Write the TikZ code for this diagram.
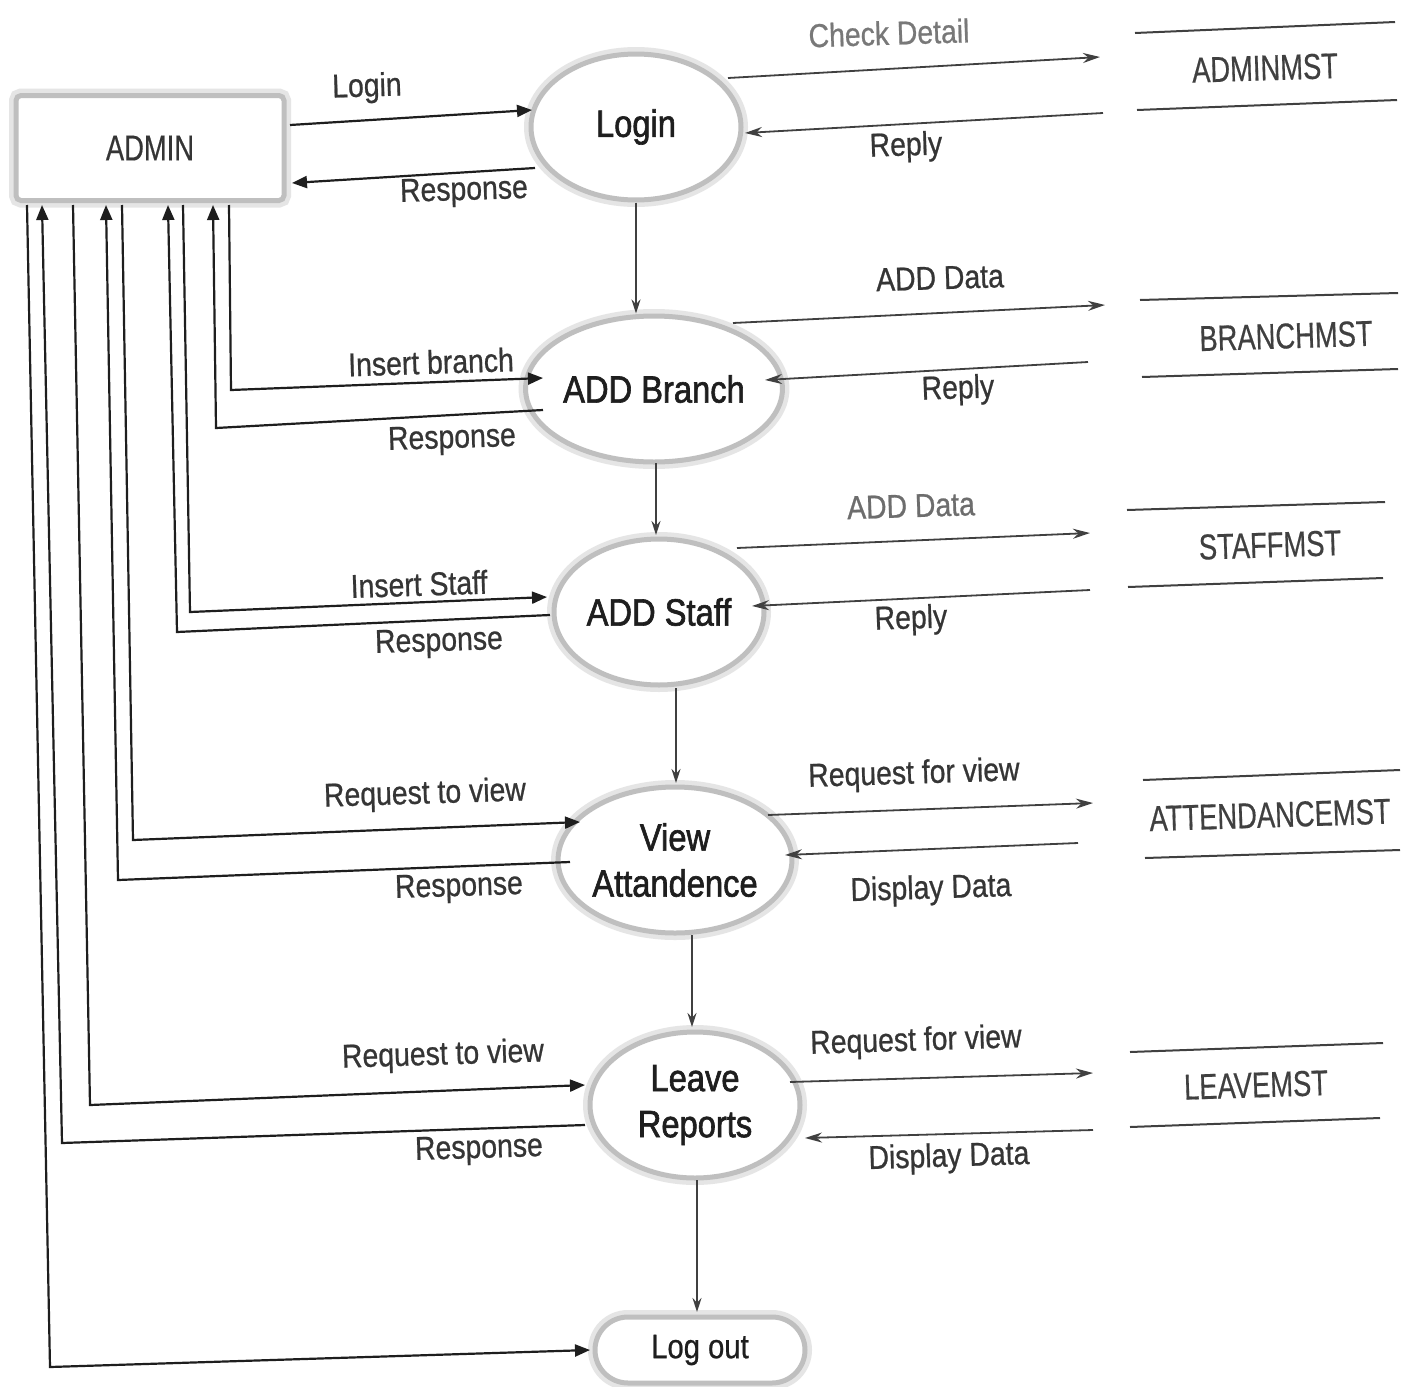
\documentclass[tikz,border=0pt]{standalone}
\usepackage{fontspec}
\setmainfont{Liberation Sans}
\newfontfamily\lblf{Liberation Sans}[FakeStretch=0.86,FakeBold=0.7]
\newfontfamily\procf{Liberation Sans}[FakeStretch=0.86,FakeBold=1.6]
\newfontfamily\capf{Liberation Sans}[FakeStretch=0.76,FakeBold=0.4]
\usetikzlibrary{shapes.geometric,arrows.meta}
\definecolor{ink}{HTML}{1E1E1E}
\begin{document}
\begin{tikzpicture}[x=1pt,y=-1pt,
  halo/.style={preaction={draw=gray!20,line width=14pt}},
  proc/.style={ellipse,halo,draw=gray!50,line width=5pt,fill=white,minimum width=210pt,minimum height=146pt,inner sep=0pt,align=center,text=ink,font=\procf\fontsize{38}{46}\selectfont},
  entity/.style={rectangle,halo,rounded corners=5pt,draw=gray!50,line width=5pt,fill=white,minimum width=268pt,minimum height=105pt,inner sep=0pt,text=ink!90,font=\capf\fontsize{36}{40}\selectfont},
  term/.style={rectangle,halo,rounded corners=33pt,draw=gray!50,line width=5pt,fill=white,minimum width=210pt,minimum height=66pt,inner sep=0pt,text=ink,font=\lblf\fontsize{34}{40}\selectfont},
  store/.style={inner sep=0pt,text=ink!85,rotate=1.8,font=\capf\fontsize{36}{40}\selectfont},
  storeline/.style={draw=ink!85,line width=2pt},
  lbl/.style={inner sep=0pt,text=ink!90,rotate=1.8,font=\lblf\fontsize{33}{38}\selectfont},
  flow/.style={draw=ink,line width=2.2pt,-{Triangle[length=15pt,width=12pt]}},
  sflow/.style={draw=ink!85,line width=1.8pt,-{Stealth[length=17pt,width=10pt]}},
  dflow/.style={draw=ink!85,line width=1.6pt,-{Stealth[length=14pt,width=9pt]}}]
\useasboundingbox (0,0) rectangle (1417,1387);
\fill[white] (0,0) rectangle (1417,1387);

% ---------- nodes ----------
\node[entity] (admin) at (150,148) {ADMIN};
\node[proc] (login) at (636,127) {Login};
\node[proc] (branch) at (654,389) {ADD Branch};
\node[proc] (staff) at (659,612) {ADD Staff};
\node[proc] (view) at (675,860) {View\\Attandence};
\node[proc] (leave) at (695,1105) {Leave\\Reports};
\node[term] (logout) at (700,1350) {Log out};

% ---------- data stores ----------
\node[store] (adminmst) at (1265,68) {ADMINMST};
\draw[storeline] (1135,33) -- (1395,22);
\draw[storeline] (1137,110) -- (1397,100);
\node[store] (branchmst) at (1286,336) {BRANCHMST};
\draw[storeline] (1140,300) -- (1398,293);
\draw[storeline] (1142,377) -- (1398,369);
\node[store] (staffmst) at (1270,545) {STAFFMST};
\draw[storeline] (1127,510) -- (1385,502);
\draw[storeline] (1128,587) -- (1383,578);
\node[store] (attmst) at (1270,815) {ATTENDANCEMST};
\draw[storeline] (1143,780) -- (1400,770);
\draw[storeline] (1145,858) -- (1400,850);
\node[store] (leavemst) at (1256,1085) {LEAVEMST};
\draw[storeline] (1130,1052) -- (1383,1043);
\draw[storeline] (1130,1127) -- (1380,1118);

% ---------- coordinates ----------
\coordinate (aR1) at (290,125);   \coordinate (lgW1) at (532,110);
\coordinate (lgW2) at (535,168);  \coordinate (aR2) at (292,183);
\coordinate (b1) at (27,205);  \coordinate (b2) at (42,205);  \coordinate (b3) at (73,205);
\coordinate (b4) at (106,205); \coordinate (b5) at (122,205); \coordinate (b6) at (168,205);
\coordinate (b7) at (183,205); \coordinate (b8) at (213,205); \coordinate (b9) at (229,205);
\coordinate (k9) at (231,390);  \coordinate (brW1) at (543,378);
\coordinate (brW2) at (543,410); \coordinate (k8) at (216,428);
\coordinate (k7) at (190,612);  \coordinate (stW1) at (547,597);
\coordinate (stW2) at (550,615); \coordinate (k6) at (177,632);
\coordinate (k5) at (133,840);  \coordinate (vwW1) at (580,822);
\coordinate (vwW2) at (570,862); \coordinate (k4) at (118,880);
\coordinate (k3) at (90,1105);  \coordinate (lvW1) at (585,1085);
\coordinate (lvW2) at (585,1125); \coordinate (k2) at (62,1143);
\coordinate (k1) at (50,1367);  \coordinate (loW) at (590,1350);

\coordinate (lgE1) at (728,78);   \coordinate (sA1) at (1100,57);
\coordinate (sA2) at (1103,113);  \coordinate (lgE2) at (745,133);
\coordinate (brE1) at (733,323);  \coordinate (sB1) at (1105,305);
\coordinate (sB2) at (1088,362);  \coordinate (brE2) at (765,380);
\coordinate (stE1) at (737,548);  \coordinate (sS1) at (1090,533);
\coordinate (sS2) at (1090,590);  \coordinate (stE2) at (752,606);
\coordinate (vwE1) at (768,815);  \coordinate (sV1) at (1093,803);
\coordinate (sV2) at (1078,843);  \coordinate (vwE2) at (785,855);
\coordinate (lvE1) at (790,1082); \coordinate (sL1) at (1093,1073);
\coordinate (sL2) at (1093,1130); \coordinate (lvE2) at (805,1138);

% ---------- admin <-> processes ----------
\draw[flow] (aR1) -- (lgW1);
\draw[flow] (lgW2) -- (aR2);
\draw[flow] (b9) -- (k9) -- (brW1);
\draw[flow] (brW2) -- (k8) -- (b8);
\draw[flow] (b7) -- (k7) -- (stW1);
\draw[flow] (stW2) -- (k6) -- (b6);
\draw[flow] (b5) -- (k5) -- (vwW1);
\draw[flow] (vwW2) -- (k4) -- (b4);
\draw[flow] (b3) -- (k3) -- (lvW1);
\draw[flow] (lvW2) -- (k2) -- (b2);
\draw[flow] (b1) -- (k1) -- (loW);

% ---------- process chain ----------
\draw[dflow] (login.south) -- (login.south |- branch.north);
\draw[dflow] (656,463) -- (656,535);
\draw[dflow] (676,688) -- (676,783);
\draw[dflow] (692,935) -- (692,1027);
\draw[dflow] (697,1180) -- (697,1312);

% ---------- processes <-> stores ----------
\draw[sflow] (lgE1) -- (sA1);
\draw[sflow] (sA2) -- (lgE2);
\draw[sflow] (brE1) -- (sB1);
\draw[sflow] (sB2) -- (brE2);
\draw[sflow] (stE1) -- (sS1);
\draw[sflow] (sS2) -- (stE2);
\draw[sflow] (vwE1) -- (sV1);
\draw[sflow] (sV2) -- (vwE2);
\draw[sflow] (lvE1) -- (sL1);
\draw[sflow] (sL2) -- (lvE2);

% ---------- labels ----------
\node[lbl] (tLogin) at (367,88) {Login};
\node[lbl] (tResp0) at (464,192) {Response};
\node[lbl,text=ink!60] (tCheck) at (889,33) {Check Detail};
\node[lbl] (tReply1) at (906,147) {Reply};
\node[lbl] (tAdd1) at (940,278) {ADD Data};
\node[lbl] (tReply2) at (958,390) {Reply};
\node[lbl,text=ink!65] (tAdd2) at (911,506) {ADD Data};
\node[lbl] (tReply3) at (911,620) {Reply};
\node[lbl] (tReqV1) at (914,775) {Request for view};
\node[lbl] (tDisp1) at (931,890) {Display Data};
\node[lbl] (tReqV2) at (916,1042) {Request for view};
\node[lbl] (tDisp2) at (949,1158) {Display Data};
\node[lbl] (tIns1) at (431,362) {Insert branch};
\node[lbl] (tResp1) at (452,440) {Response};
\node[lbl] (tIns2) at (419,584) {Insert Staff};
\node[lbl] (tResp2) at (439,643) {Response};
\node[lbl] (tReq1) at (425,795) {Request to view};
\node[lbl] (tResp3) at (459,888) {Response};
\node[lbl] (tReq2) at (443,1056) {Request to view};
\node[lbl] (tResp4) at (479,1150) {Response};
\end{tikzpicture}
\end{document}
